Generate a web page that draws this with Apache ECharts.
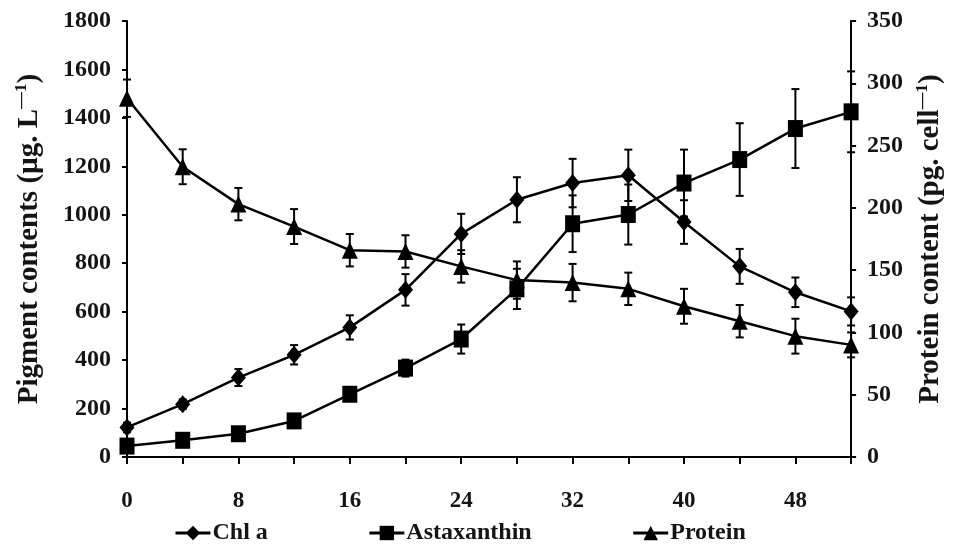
<!DOCTYPE html>
<html>
<head>
<meta charset="utf-8">
<script src="https://cdn.jsdelivr.net/npm/echarts@6/dist/echarts.min.js"></script>
<style>
html,body{margin:0;padding:0;background:#fff;}
#c{width:953px;height:548px;}
</style>
</head>
<body>
<div id="c"></div>
<script>
const hours = [0, 4, 8, 12, 16, 20, 24, 28, 32, 36, 40, 44, 48, 52];
const chlA = [122, 218, 328, 422, 535, 690, 921, 1062, 1131, 1163, 970, 787, 680, 601];
const chlAErr = [20, 20, 35, 40, 50, 65, 83, 93, 100, 106, 90, 72, 61, 58];
const astaxanthin = [45, 69, 96, 149, 259, 367, 487, 694, 963, 1001, 1131, 1228, 1356, 1425];
const astaxanthinErr = [25, 15, 20, 20, 25, 35, 60, 83, 117, 124, 138, 150, 163, 167];
const protein = [288, 233, 203, 185, 166, 165, 153, 142, 140, 135, 121, 109, 97, 90];
const proteinErr = [15, 14, 13, 14, 13, 13, 13, 15, 15, 13, 14, 13, 14, 10];
const leftTicks = [0, 1800, 200];
const rightTicks = [0, 350, 50];

const FONT = '"Liberation Serif", "Times New Roman", serif';
const TXT = '#141414';

function errData(vals, errs) {
  return hours.map((h, i) => [h, vals[i] - errs[i], vals[i] + errs[i]]);
}
function errSeries(name, vals, errs, yIdx) {
  return {
    type: 'custom', name: name + ' err', yAxisIndex: yIdx, silent: true, z: 1,
    data: errData(vals, errs),
    encode: { x: 0, y: [1, 2] },
    renderItem: function (params, api) {
      const x = api.value(0);
      const lo = api.coord([x, api.value(1)]);
      const hi = api.coord([x, api.value(2)]);
      const w = 4;
      const st = { stroke: '#000', lineWidth: 2 };
      return {
        type: 'group', children: [
          { type: 'line', shape: { x1: lo[0], y1: lo[1], x2: hi[0], y2: hi[1] }, style: st },
          { type: 'line', shape: { x1: lo[0] - w, y1: lo[1], x2: lo[0] + w, y2: lo[1] }, style: st },
          { type: 'line', shape: { x1: hi[0] - w, y1: hi[1], x2: hi[0] + w, y2: hi[1] }, style: st }
        ]
      };
    }
  };
}
function lineSeries(name, vals, yIdx, symbol, size) {
  return {
    type: 'line', name: name, yAxisIndex: yIdx, z: 3,
    data: hours.map((h, i) => [h, vals[i]]),
    symbol: symbol, symbolSize: size,
    lineStyle: { color: '#000', width: 2.5 },
    itemStyle: { color: '#000' },
    showSymbol: true
  };
}
const triangle = 'path://M50 0 L100 100 L0 100 Z';

const nameRich = {
  t: { fontFamily: FONT, fontWeight: 'bold', fontSize: 29, color: TXT, lineHeight: 33 },
  s: { fontFamily: FONT, fontWeight: 'bold', fontSize: 17, color: TXT, verticalAlign: 'top', lineHeight: 33 }
};

const chart = echarts.init(document.getElementById('c'), null, { renderer: 'canvas' });
chart.setOption({
  animation: false,
  backgroundColor: '#fff',
  grid: { left: 127, right: 98, top: 21, bottom: 91, containLabel: false },
  legend: {
    top: 516, left: 169,
    itemGap: 100, itemWidth: 35, itemHeight: 18,
    data: ['Chl a', 'Astaxanthin', 'Protein'],
    lineStyle: { width: 3, color: '#000' },
    textStyle: { fontFamily: FONT, fontWeight: 'bold', fontSize: 24, color: TXT, padding: [0, 0, 0, -3] }
  },
  xAxis: {
    type: 'value', min: 0, max: 52, interval: 4,
    axisLine: { lineStyle: { color: '#000', width: 2 } },
    axisTick: { inside: false, length: 7, lineStyle: { color: '#000', width: 2 } },
    axisLabel: {
      margin: 33, fontFamily: FONT, fontWeight: 'bold', fontSize: 23, color: TXT,
      formatter: v => (v % 8 === 0 ? String(v) : '')
    },
    splitLine: { show: false }
  },
  yAxis: [
    {
      type: 'value', position: 'left', min: leftTicks[0], max: leftTicks[1], interval: leftTicks[2],
      axisLine: { show: true, lineStyle: { color: '#000', width: 2 } },
      axisTick: { show: true, length: 5, lineStyle: { color: '#000', width: 2 } },
      axisLabel: { margin: 16, fontFamily: FONT, fontWeight: 'bold', fontSize: 24, color: TXT, formatter: v => String(v) },
      splitLine: { show: false },
      name: '{t|Pigment contents (µg. L}{s|—1}{t|)}',
      nameLocation: 'middle', nameRotate: 90, nameGap: 81,
      nameTextStyle: { rich: nameRich }
    },
    {
      type: 'value', position: 'right', min: rightTicks[0], max: rightTicks[1], interval: rightTicks[2],
      axisLine: { show: true, lineStyle: { color: '#000', width: 2 } },
      axisTick: { show: true, length: 5, lineStyle: { color: '#000', width: 2 } },
      axisLabel: { margin: 16, fontFamily: FONT, fontWeight: 'bold', fontSize: 24, color: TXT, formatter: v => String(v) },
      splitLine: { show: false },
      name: '{t|Protein content (pg. cell}{s|—1}{t|)}',
      nameLocation: 'middle', nameRotate: 90, nameGap: 62,
      nameTextStyle: { rich: nameRich }
    }
  ],
  series: [
    errSeries('Chl a', chlA, chlAErr, 0),
    errSeries('Astaxanthin', astaxanthin, astaxanthinErr, 0),
    errSeries('Protein', protein, proteinErr, 1),
    lineSeries('Chl a', chlA, 0, 'diamond', [15, 18]),
    lineSeries('Astaxanthin', astaxanthin, 0, 'rect', [15, 17]),
    lineSeries('Protein', protein, 1, triangle, [16, 17])
  ]
});
</script>
</body>
</html>
